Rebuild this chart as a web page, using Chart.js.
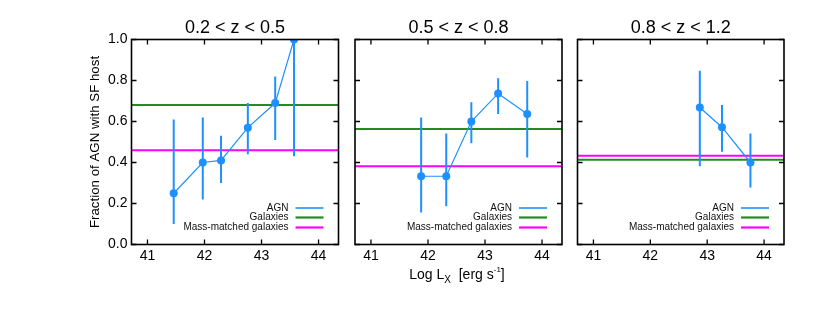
<!DOCTYPE html>
<html>
<head>
<meta charset="utf-8">
<script src="https://cdn.jsdelivr.net/npm/chart.js@4.4.0/dist/chart.umd.min.js"></script>
<style>
    html, body { margin: 0; padding: 0; background: #fff; }
    #wrap { position: relative; width: 830px; height: 323px; }
    #wrap canvas { position: absolute; left: 0; top: 0; pointer-events: none; }
</style>
</head>
<body>
<div id="wrap">
    <canvas id="panel1" width="830" height="323"></canvas>
    <canvas id="panel2" width="830" height="323"></canvas>
    <canvas id="panel3" width="830" height="323"></canvas>
</div>
<script>
// 坐标轴
const xMin = 40.72, xMax = 44.35;
const xTicks = [41, 42, 43, 44];
const yTicks = [0.0, 0.2, 0.4, 0.6, 0.8, 1.0];
const panelTitles = ['0.2 < z < 0.5', '0.5 < z < 0.8', '0.8 < z < 1.2'];
const legendLabels = ['AGN', 'Galaxies', 'Mass-matched galaxies'];

// 0.2 < z < 0.5
const lx1 = [41.46, 41.97, 42.29, 42.76, 43.24, 43.57];
const frac1 = [0.25, 0.40, 0.41, 0.57, 0.69, 1.00];
const lo1 = [0.10, 0.22, 0.30, 0.44, 0.51, 0.43];
const hi1 = [0.61, 0.62, 0.53, 0.69, 0.82, 1.00];
const gal1 = 0.68, mass1 = 0.46;

// 0.5 < z < 0.8
const lx2 = [41.88, 42.32, 42.76, 43.23, 43.74];
const frac2 = [0.333, 0.333, 0.60, 0.737, 0.637];
const lo2 = [0.156, 0.187, 0.494, 0.636, 0.424];
const hi2 = [0.62, 0.541, 0.694, 0.811, 0.797];
const gal2 = 0.563, mass2 = 0.382;

// 0.8 < z < 1.2
const lx3 = [42.87, 43.26, 43.76];
const frac3 = [0.668, 0.572, 0.40];
const lo3 = [0.382, 0.452, 0.278];
const hi3 = [0.847, 0.68, 0.541];
const gal3 = 0.413, mass3 = 0.433;

const agnColor = 'rgb(30,144,255)';
const galColor = 'rgb(34,139,34)';
const massColor = 'rgb(255,0,255)';
const FONT = '"Liberation Sans", Arial, Helvetica, sans-serif';

// 框、刻度、标题、图例、误差棒
const framePlugin = {
    id: 'frame',
    afterDatasetsDraw(chart, args, opts) {
        const { ctx, chartArea: a, scales } = chart;
        ctx.save();
        ctx.beginPath();
        ctx.rect(a.left, a.top, a.right - a.left, a.bottom - a.top);
        ctx.clip();
        ctx.strokeStyle = agnColor;
        ctx.lineWidth = 2;
        opts.lx.forEach((x, i) => {
            const px = scales.x.getPixelForValue(x);
            ctx.beginPath();
            ctx.moveTo(px, scales.y.getPixelForValue(opts.lo[i]));
            ctx.lineTo(px, scales.y.getPixelForValue(opts.hi[i]));
            ctx.stroke();
        });
        ctx.restore();
    },
    afterDraw(chart, args, opts) {
        const { ctx, chartArea: a, scales } = chart;
        ctx.save();
        ctx.strokeStyle = '#000';
        ctx.lineWidth = 1.6;
        ctx.strokeRect(a.left, a.top, a.right - a.left, a.bottom - a.top);
        ctx.lineWidth = 1.3;
        const tl = 5;
        xTicks.forEach(v => {
            const px = scales.x.getPixelForValue(v);
            ctx.beginPath();
            ctx.moveTo(px, a.bottom); ctx.lineTo(px, a.bottom - tl);
            ctx.moveTo(px, a.top); ctx.lineTo(px, a.top + tl);
            ctx.stroke();
        });
        yTicks.forEach(v => {
            const py = scales.y.getPixelForValue(v);
            ctx.beginPath();
            ctx.moveTo(a.left, py); ctx.lineTo(a.left + tl, py);
            ctx.moveTo(a.right, py); ctx.lineTo(a.right - tl, py);
            ctx.stroke();
        });

        // 标题
        ctx.fillStyle = '#000';
        ctx.font = '18px ' + FONT;
        ctx.textAlign = 'center';
        ctx.textBaseline = 'alphabetic';
        ctx.fillText(opts.title, (a.left + a.right) / 2, a.top - 7);

        // 图例
        const colors = [agnColor, galColor, massColor];
        const widths = [1.6, 2.2, 2.2];
        const rows = [a.bottom - 36.5, a.bottom - 27, a.bottom - 17];
        ctx.font = '10px ' + FONT;
        ctx.textAlign = 'right';
        ctx.textBaseline = 'middle';
        legendLabels.forEach((t, i) => {
            ctx.fillStyle = '#111';
            ctx.fillText(t, a.right - 50, rows[i]);
            ctx.strokeStyle = colors[i];
            ctx.lineWidth = widths[i];
            ctx.beginPath();
            ctx.moveTo(a.right - 43, rows[i]);
            ctx.lineTo(a.right - 15, rows[i]);
            ctx.stroke();
        });

        // 纵轴标题
        if (opts.yTitle) {
            ctx.save();
            ctx.translate(95, (a.top + a.bottom) / 2);
            ctx.rotate(-Math.PI / 2);
            ctx.font = '13.3px ' + FONT;
            ctx.textAlign = 'center';
            ctx.textBaseline = 'middle';
            ctx.fillStyle = '#000';
            ctx.fillText(opts.yTitle, 0, 0);
            ctx.restore();
        }

        // 横轴标题 Log L_X [erg s^-1]
        if (opts.xTitle) {
            const parts = [
                { t: 'Log L', size: 14, dy: 0 },
                { t: 'X', size: 10, dy: 4 },
                { t: '  [erg s', size: 14, dy: 0 },
                { t: '-1', size: 8, dy: -7 },
                { t: ']', size: 14, dy: 0 }
            ];
            let total = 0;
            parts.forEach(p => {
                ctx.font = p.size + 'px ' + FONT;
                p.w = ctx.measureText(p.t).width;
                total += p.w;
            });
            let x = 457 - total / 2;
            ctx.textAlign = 'left';
            ctx.textBaseline = 'alphabetic';
            ctx.fillStyle = '#000';
            parts.forEach(p => {
                ctx.font = p.size + 'px ' + FONT;
                ctx.fillText(p.t, x, 279 + p.dy);
                x += p.w;
            });
        }
        ctx.restore();
    }
};

function hLine(value, color) {
    return {
        data: [{ x: xMin, y: value }, { x: xMax, y: value }],
        borderColor: color,
        borderWidth: 2,
        pointRadius: 0
    };
}

function createPanel(id, left, right, lx, frac, lo, hi, gal, mass, title, showY, showX) {
    const ctx = document.getElementById(id).getContext('2d');
    const yWidth = showY ? 40 : 0;
    const xHeight = 30;
    const top = 39.5, bottom = 244.5;
    new Chart(ctx, {
        type: 'line',
        data: {
            datasets: [{
                data: lx.map((x, i) => ({ x: x, y: frac[i] })),
                borderColor: agnColor,
                backgroundColor: agnColor,
                borderWidth: 1.2,
                pointRadius: 4,
                pointBorderWidth: 0
            },
            hLine(gal, galColor),
            hLine(mass, massColor)]
        },
        options: {
            responsive: false,
            animation: false,
            layout: {
                padding: { left: left - yWidth, right: 830 - right, top: top, bottom: 323 - bottom - xHeight }
            },
            plugins: {
                legend: { display: false },
                tooltip: { enabled: false },
                frame: {
                    lx: lx, lo: lo, hi: hi, title: title,
                    yTitle: showY ? 'Fraction of AGN with SF host' : null,
                    xTitle: showX
                }
            },
            scales: {
                x: {
                    type: 'linear',
                    min: xMin, max: xMax,
                    grid: { display: false, drawTicks: false },
                    border: { display: false },
                    afterBuildTicks: s => { s.ticks = xTicks.map(v => ({ value: v })); },
                    afterFit: s => { s.height = xHeight; },
                    ticks: { color: '#000', padding: 3, maxRotation: 0, font: { family: FONT, size: 14 } }
                },
                y: {
                    min: 0, max: 1,
                    grid: { display: false, drawTicks: false },
                    border: { display: false },
                    afterBuildTicks: s => { s.ticks = yTicks.map(v => ({ value: v })); },
                    afterFit: s => { s.width = yWidth; },
                    ticks: {
                        display: showY, color: '#000', padding: 4,
                        font: { family: FONT, size: 14 },
                        callback: v => v.toFixed(1)
                    }
                }
            }
        },
        plugins: [framePlugin]
    });
}

document.addEventListener('DOMContentLoaded', () => {
    createPanel('panel1', 131.5, 338.5, lx1, frac1, lo1, hi1, gal1, mass1, panelTitles[0], true, false);
    createPanel('panel2', 355, 562, lx2, frac2, lo2, hi2, gal2, mass2, panelTitles[1], false, true);
    createPanel('panel3', 577.5, 784, lx3, frac3, lo3, hi3, gal3, mass3, panelTitles[2], false, false);
});
</script>
</body>
</html>
